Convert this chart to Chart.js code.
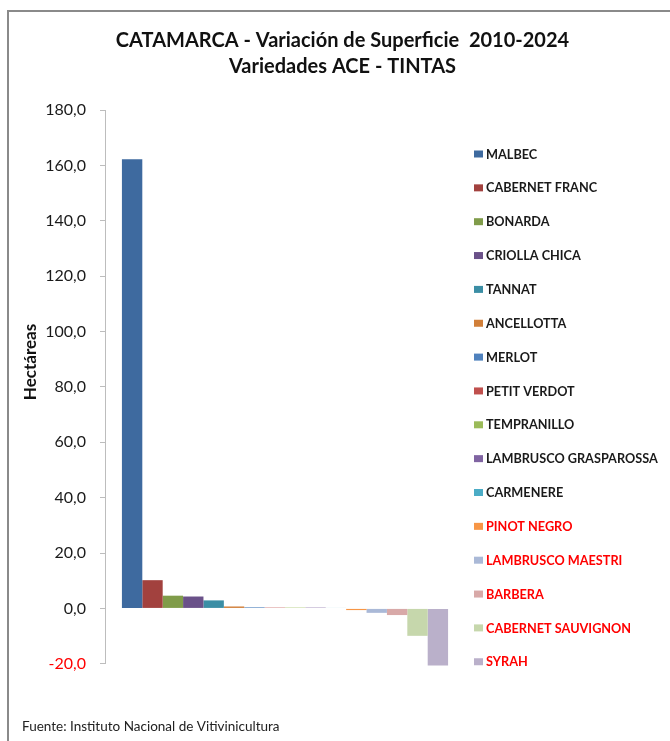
<!DOCTYPE html>
<html>
<head>
<meta charset="utf-8">
<script src="https://cdn.jsdelivr.net/npm/chart.js@4/dist/chart.umd.min.js"></script>
<style>
  html, body { margin: 0; padding: 0; background: #fff; }
  #frame {
    position: absolute; left: 7px; top: 10px; width: 700px; height: 760px;
    border-top: 2px solid #8a8a8a; border-left: 2px solid #8a8a8a;
  }
  #wrap { position: absolute; left: 0; top: 0; width: 670px; height: 741px; }
</style>
</head>
<body>
<div id="frame"></div>
<div id="wrap"><canvas id="chart"></canvas></div>
<script>
const varieties = [
  'MALBEC', 'CABERNET FRANC', 'BONARDA', 'CRIOLLA CHICA', 'TANNAT', 'ANCELLOTTA',
  'MERLOT', 'PETIT VERDOT', 'TEMPRANILLO', 'LAMBRUSCO GRASPAROSSA', 'CARMENERE',
  'PINOT NEGRO', 'LAMBRUSCO MAESTRI', 'BARBERA', 'CABERNET SAUVIGNON', 'SYRAH',
];
// hectares gained / lost between 2010 and 2024
const variation = [
  162.2, 10.2, 4.6, 4.3, 2.9, 0.7,
  0.4, 0.3, 0.3, 0.3, 0.2,
  -0.6, -1.6, -2.4, -9.9, -20.6,
];
const colors = [
  '#3e6a9f', '#a2413e', '#809c4a', '#6a5189', '#3b8ea5', '#d17f39',
  '#4f81bd', '#c0504d', '#9bbb59', '#8064a2', '#4bacc6',
  '#f79646', '#aab9d7', '#d8a9a8', '#c6d7ac', '#bab0ca',
];
const yTicks = [-20, 0, 20, 40, 60, 80, 100, 120, 140, 160, 180];

const fontFamily = 'Lato, "Open Sans", sans-serif';

function formatTick(v) {
  return v.toFixed(1).replace('.', ',');
}

// legend column on the right (varieties that lost surface in red) and the axis caption
const sideLegend = {
  id: 'sideLegend',
  afterDraw(chart, args, opts) {
    const { ctx } = chart;
    ctx.save();
    ctx.font = 'bold 12.7px ' + fontFamily;
    ctx.textBaseline = 'middle';
    ctx.textAlign = 'left';
    chart.data.datasets.forEach((ds, i) => {
      const y = opts.top + i * opts.step;
      ctx.fillStyle = ds.backgroundColor;
      ctx.fillRect(opts.left, y - 3.5, 9, 7);
      ctx.fillStyle = ds.data[0] < 0 ? '#ff0000' : '#1a1a1a';
      ctx.fillText(ds.label, opts.left + 12, y + 0.5);
    });

    ctx.translate(opts.captionX, opts.captionY);
    ctx.rotate(-Math.PI / 2);
    ctx.textAlign = 'center';
    ctx.fillStyle = '#111';
    ctx.font = 'bold 17px ' + fontFamily;
    ctx.fillText('Hectáreas', 0, 0);
    ctx.restore();
  },
};

new Chart(document.getElementById('chart'), {
  type: 'bar',
  data: {
    labels: [''],
    datasets: varieties.map((name, i) => ({
      label: name,
      data: [variation[i]],
      backgroundColor: colors[i],
      borderWidth: 0,
      clip: false,
    })),
  },
  options: {
    responsive: true,
    maintainAspectRatio: false,
    animation: false,
    layout: { padding: { left: 22, right: 7, top: 0, bottom: 0 } },
    datasets: { bar: { categoryPercentage: 0.906, barPercentage: 1 } },
    plugins: {
      legend: { display: false },
      tooltip: { enabled: false },
      title: {
        display: true,
        text: ['CATAMARCA - Variación de Superficie  2010-2024', 'Variedades ACE - TINTAS'],
        color: '#111',
        font: { family: fontFamily, size: 20, weight: 'bold', lineHeight: 1.3 },
        padding: { top: 28, bottom: 30 },
      },
      subtitle: {
        display: true,
        position: 'bottom',
        align: 'start',
        text: 'Fuente: Instituto Nacional de Vitivinicultura',
        color: '#222',
        font: { family: fontFamily, size: 13.5, lineHeight: 1.2 },
        padding: { top: 55, bottom: 6 },
      },
      sideLegend: { left: 474, top: 154, step: 33.85, captionX: 31, captionY: 362 },
    },
    scales: {
      x: { display: false },
      y: {
        min: -20,
        max: 180,
        afterBuildTicks(scale) {
          scale.ticks = yTicks.map((v) => ({ value: v }));
        },
        afterFit(scale) {
          scale.width = 83;
        },
        border: { display: true, color: '#bdbdbd', width: 1 },
        grid: { drawOnChartArea: false, drawTicks: true, tickLength: 5, color: '#bdbdbd' },
        ticks: {
          padding: 14,
          color: (c) => (c.tick && c.tick.value < 0 ? '#ff0000' : '#1a1a1a'),
          font: { family: fontFamily, size: 16 },
          callback: (v) => formatTick(v),
        },
      },
      // empty right-hand axis that keeps room for the legend column
      legendRoom: {
        position: 'right',
        display: true,
        ticks: { display: false },
        grid: { display: false },
        border: { display: false },
        afterFit(scale) {
          scale.width = 198;
        },
      },
    },
  },
  plugins: [sideLegend],
});
</script>
</body>
</html>
